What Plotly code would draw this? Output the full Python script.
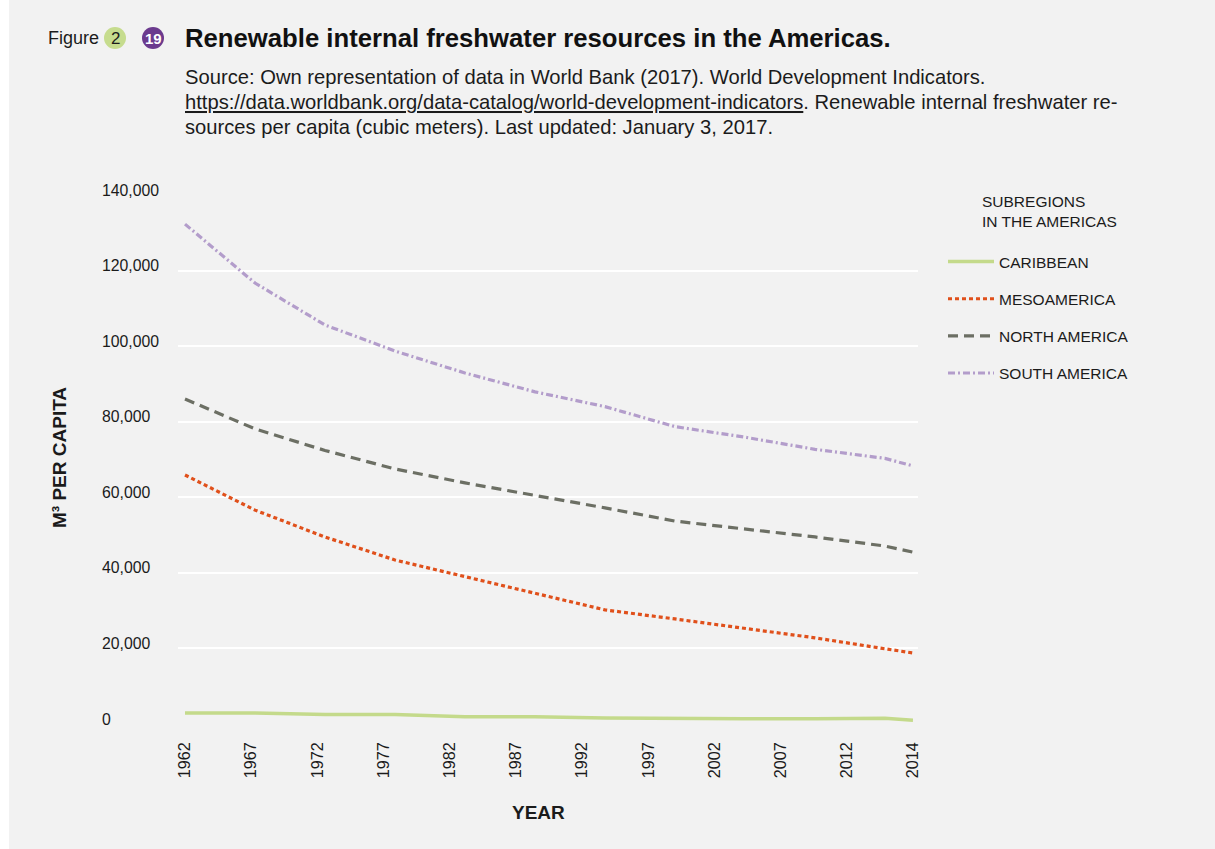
import numpy as np
import plotly.graph_objects as go

# ---------------- data ----------------
years = [1962, 1967, 1972, 1977, 1982, 1987, 1992, 1997, 2002, 2007, 2012, 2014]
caribbean = [2900, 2900, 2500, 2500, 1900, 1900, 1600, 1400, 1400, 1400, 1500, 1000]
mesoamerica = [65900, 56600, 49500, 43400, 39000, 34500, 30200, 27800, 25400, 22800, 19900, 18800]
north_america = [86000, 78100, 72400, 67500, 63800, 60600, 57200, 53700, 51600, 49500, 47100, 45500]
south_america = [132300, 116700, 105600, 98700, 92900, 87900, 84000, 78700, 75900, 72700, 70300, 68300]

series_names = ["CARIBBEAN", "MESOAMERICA", "NORTH AMERICA", "SOUTH AMERICA"]
x_tick_labels = ["1962", "1967", "1972", "1977", "1982", "1987", "1992",
                 "1997", "2002", "2007", "2012", "2014"]
y_tick_values = [0, 20000, 40000, 60000, 80000, 100000, 120000, 140000]

title_text = "Renewable internal freshwater resources in the Americas."
source_lines = [
    "Source: Own representation of data in World Bank (2017). World Development Indicators.",
    "<u>https://data.worldbank.org/data-catalog/world-development-indicators</u>. Renewable internal freshwater re-",
    "sources per capita (cubic meters). Last updated: January 3, 2017.",
]
legend_title = "SUBREGIONS<br>IN THE AMERICAS"

# ---------------- styles ----------------
FONT = "Liberation Sans, Arial, Helvetica, sans-serif"
TXT = "#1b1b1b"
BG = "#f2f2f2"
W, H = 1215, 849
L, R, T, B = 178, 297, 195, 125
PW, PH = W - L - R, H - T - B

def px(x):
    return (x - L) / PW

def py(y):
    return (H - B - y) / PH

styles = [
    dict(color="#c4da8b", width=3.5, dash="solid"),
    dict(color="#e0501b", width=3.2, dash="4px,3px"),
    dict(color="#6c6f64", width=3.2, dash="10px,6px"),
    dict(color="#b39dcb", width=3.2, dash="7px,3px,2px,3px"),
]
values = [caribbean, mesoamerica, north_america, south_america]

fig = go.Figure()
for i, (name, vals, st) in enumerate(zip(series_names, values, styles)):
    fig.add_trace(go.Scatter(
        x=years, y=vals, mode="lines", name=name,
        line=dict(color=st["color"], width=st["width"], dash=st["dash"]),
        legendgroup=f"g{i}", hoverinfo="x+y+name",
    ))

# evenly spaced year labels along the axis (as in the reference)
tickvals = list(np.linspace(years[0], years[-1], len(x_tick_labels)))

fig.update_layout(
    width=W, height=H,
    margin=dict(l=L, r=R, t=T, b=B, pad=0),
    paper_bgcolor=BG, plot_bgcolor=BG,
    font=dict(family=FONT, color=TXT, size=14),
    showlegend=True,
    legend=dict(
        x=px(943), y=py(245), xanchor="left", yanchor="top",
        bgcolor="rgba(0,0,0,0)", borderwidth=0,
        font=dict(family=FONT, size=15.5, color=TXT),
        itemwidth=46, tracegroupgap=14, traceorder="grouped",
    ),
    xaxis=dict(
        range=[1961.5, 2014.36], showgrid=False, zeroline=False, showline=False,
        tickmode="array", tickvals=tickvals, ticktext=x_tick_labels,
        tickangle=-90, ticks="", ticklabelstandoff=14,
        tickfont=dict(family=FONT, size=16.2, color=TXT),
    ),
    yaxis=dict(
        range=[0, 140000], showgrid=True, gridcolor="#ffffff", gridwidth=2.2,
        zeroline=False, showline=False, tickmode="array", tickvals=y_tick_values,
        showticklabels=False, ticks="",
    ),
)

annotations = []
# y tick labels (left aligned like the reference)
for v in y_tick_values:
    annotations.append(dict(
        x=px(100), xref="paper", y=v, yref="y", xanchor="left", yanchor="middle",
        yshift=5, text=f"{v:,}", showarrow=False,
        font=dict(family=FONT, size=15.8, color=TXT),
    ))
# axis titles
annotations.append(dict(
    x=px(59), xref="paper", y=py(458), yref="paper", text="<b>M³ PER CAPITA</b>",
    textangle=-90, showarrow=False, xanchor="center", yanchor="middle",
    font=dict(family=FONT, size=19, color=TXT),
))
annotations.append(dict(
    x=px(538), xref="paper", y=py(812), yref="paper", text="<b>YEAR</b>",
    showarrow=False, xanchor="center", yanchor="middle",
    font=dict(family=FONT, size=19, color=TXT),
))
# legend title
annotations.append(dict(
    x=px(980), xref="paper", y=py(191), yref="paper", text=legend_title,
    showarrow=False, xanchor="left", yanchor="top", align="left",
    font=dict(family=FONT, size=15.5, color=TXT),
))
# header
annotations.append(dict(
    x=px(46), xref="paper", y=py(38), yref="paper", text="Figure",
    showarrow=False, xanchor="left", yanchor="middle",
    font=dict(family=FONT, size=18, color=TXT),
))
annotations.append(dict(
    x=px(115), xref="paper", y=py(38), yref="paper", text="2",
    showarrow=False, xanchor="center", yanchor="middle",
    font=dict(family=FONT, size=17, color=TXT),
))
annotations.append(dict(
    x=px(153), xref="paper", y=py(38), yref="paper", text="<b>19</b>",
    showarrow=False, xanchor="center", yanchor="middle",
    font=dict(family=FONT, size=15, color="#ffffff"),
))
annotations.append(dict(
    x=px(183), xref="paper", y=py(38), yref="paper", text=f"<b>{title_text}</b>",
    showarrow=False, xanchor="left", yanchor="middle",
    font=dict(family=FONT, size=25.7, color="#111111"),
))
for k, line in enumerate(source_lines):
    annotations.append(dict(
        x=px(183), xref="paper", y=py(77 + 25 * k), yref="paper", text=line,
        showarrow=False, xanchor="left", yanchor="middle", align="left",
        font=dict(family=FONT, size=20.2, color=TXT),
    ))
fig.update_layout(annotations=annotations)

shapes = [
    dict(type="rect", xref="paper", yref="paper", xsizemode="pixel", ysizemode="pixel",
         xanchor=px(0), yanchor=py(0), x0=0, x1=9, y0=0, y1=-H,
         fillcolor="#ffffff", line=dict(width=0), layer="below"),
    dict(type="circle", xref="paper", yref="paper", xsizemode="pixel", ysizemode="pixel",
         xanchor=px(115), yanchor=py(38), x0=-11, x1=11, y0=-11, y1=11,
         fillcolor="#c6dc8e", line=dict(width=0)),
    dict(type="circle", xref="paper", yref="paper", xsizemode="pixel", ysizemode="pixel",
         xanchor=px(153), yanchor=py(38), x0=-11, x1=11, y0=-11, y1=11,
         fillcolor="#6b3a8e", line=dict(width=0)),
]
fig.update_layout(shapes=shapes)

fig.write_html(
    "out.html",
    config={"displayModeBar": False},
    post_script="document.body.style.margin='0px';document.body.style.overflow='hidden';",
)
